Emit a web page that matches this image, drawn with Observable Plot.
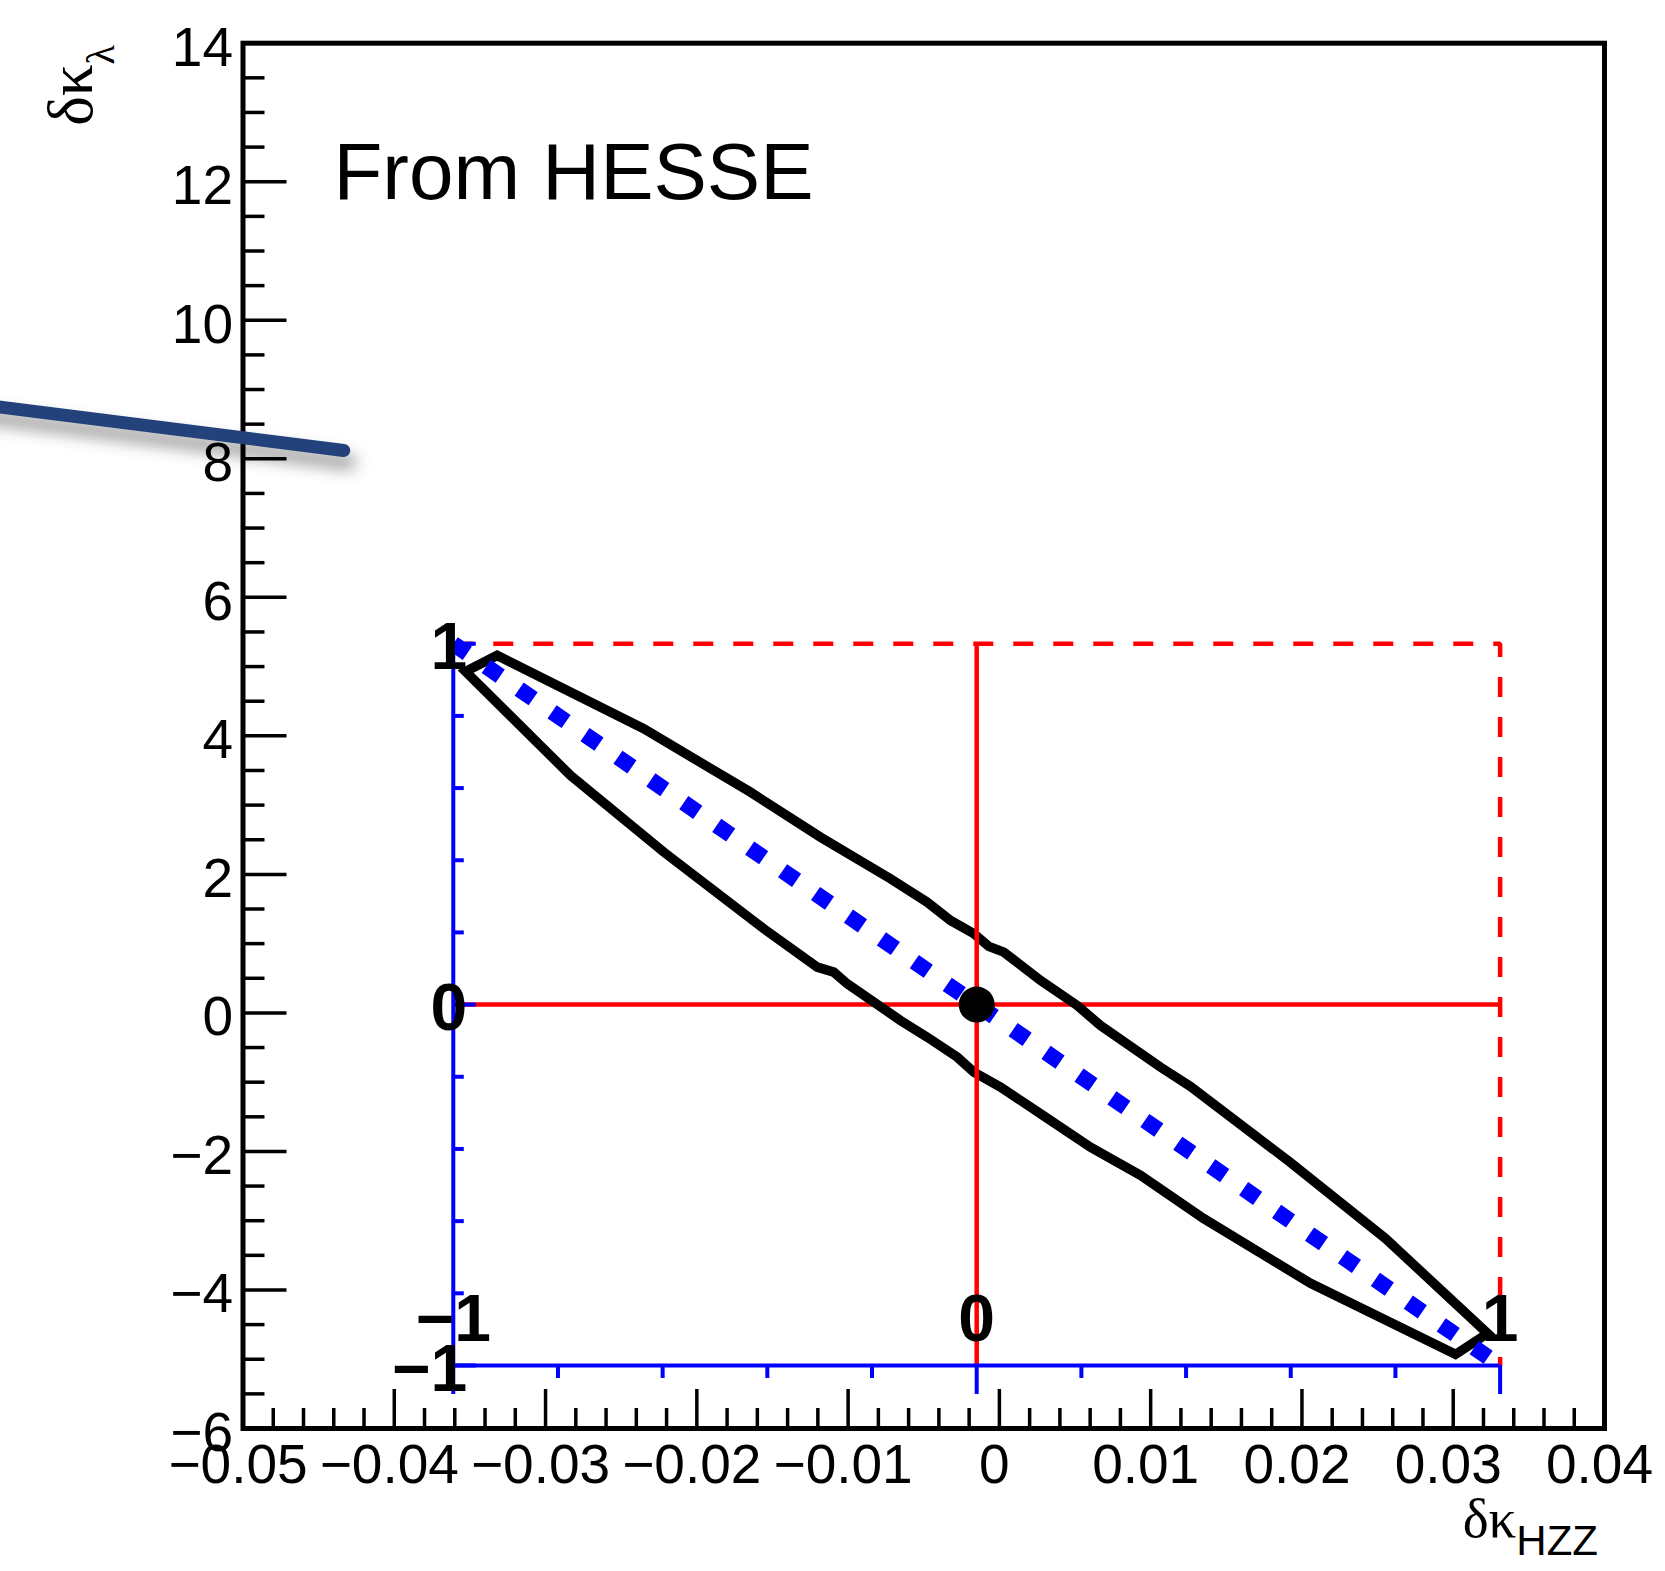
<!DOCTYPE html>
<html><head><meta charset="utf-8">
<script src="https://cdn.jsdelivr.net/npm/d3@7"></script>
<script src="https://cdn.jsdelivr.net/npm/@observablehq/plot@0.6"></script>
<style>html,body{margin:0;padding:0;background:#fff;} #chart svg{display:block;}</style>
</head><body><div id="chart"></div>
<script>
// ---- axes ----
const xDomain = [-0.05, 0.04];
const yDomain = [-6, 14];
const xMajorTicks = [-0.05, -0.04, -0.03, -0.02, -0.01, 0, 0.01, 0.02, 0.03, 0.04];
const xTickLabels = ["−0.05", "−0.04", "−0.03", "−0.02", "−0.01", "0", "0.01", "0.02", "0.03", "0.04"];
const yMajorTicks = [-6, -4, -2, 0, 2, 4, 6, 8, 10, 12, 14];
const yTickLabels = ["−6", "−4", "−2", "0", "2", "4", "6", "8", "10", "12", "14"];
const xMinorTicks = d3.range(0, 46).map(i => +(-0.05 + i * 0.002).toFixed(4)).filter(v => !xMajorTicks.some(m => Math.abs(m - v) < 1e-9));
const yMinorTicks = d3.range(0, 41).map(i => -6 + i * 0.5).filter(v => v % 2 !== 0);

// ---- fit result (from HESSE) ----
const fitCenter = [-0.0015, 0.12];   // best fit (δκ_HZZ, δκ_λ)
const fitSigma = [0.0346, 5.21];     // 1σ errors

// ---- correlation axes ----
const corrMajor = [-1, 0, 1];
const corrMinor = [-0.8, -0.6, -0.4, -0.2, 0.2, 0.4, 0.6, 0.8];
const corrLabels = ["−1", "0", "1"];

// ---- contour (black polygon) ----
const contourX = [-0.03529, -0.03320, -0.02351, -0.01645, -0.01183, -0.00720, -0.00477, -0.00323, -0.00169, -0.00070,
  0.00029, 0.00272, 0.00514, 0.00668, 0.01065, 0.01263, 0.01924, 0.02552, 0.03227, 0.03015,
  0.02057, 0.01349, 0.00933, 0.00602, 0.00272, 0.00007, -0.00169, -0.00279, -0.00477, -0.00654,
  -0.01006, -0.01095, -0.01204, -0.01557, -0.02218, -0.02835];
const contourY = [4.930, 5.161, 4.102, 3.187, 2.538, 1.937, 1.599, 1.335, 1.143, 0.960,
  0.877, 0.469, 0.108, -0.181, -0.783, -1.061, -2.159, -3.256, -4.627, -4.930,
  -3.905, -2.967, -2.346, -1.938, -1.455, -1.071, -0.855, -0.638, -0.350, -0.109,
  0.421, 0.589, 0.661, 1.215, 2.321, 3.428];

// ---- overlay annotation stroke ----
const annotX = [-0.0680, -0.04334];
const annotY = [8.80, 8.12];

const [cx, cy] = fitCenter, [sx, sy] = fitSigma;
const xlo = cx - sx, xhi = cx + sx, ylo = cy - sy, yhi = cy + sy;
const contour = contourX.map((x, i) => ({x, y: contourY[i]}));
const annot = annotX.map((x, i) => [x, annotY[i]]);
const RED = "#ff0000", BLUE = "#0000ff";
const SANS = "'Liberation Sans', Arial, Helvetica, sans-serif";
const SERIF = "'Liberation Serif', 'DejaVu Serif', serif";

const plot = Plot.plot({
  width: 1665, height: 1571,
  marginLeft: 242.5, marginRight: 61, marginTop: 42.7, marginBottom: 143,
  x: {domain: xDomain, axis: null},
  y: {domain: yDomain, axis: null},
  style: {background: "white", fontFamily: SANS, overflow: "visible"},
  marks: [
    // red solid horizontal
    Plot.ruleY([cy], {x1: xlo, x2: xhi, stroke: RED, strokeWidth: 4.5}),
    // red dashed box edges
    Plot.line([[xlo, yhi], [xhi, yhi], [xhi, ylo]], {stroke: RED, strokeWidth: 4.5, strokeDasharray: "20 20", strokeLinecap: "butt", strokeLinejoin: "miter"}),
    // contour
    Plot.line(contour, {x: "x", y: "y", curve: "linear-closed", stroke: "black", strokeWidth: 9.5, strokeLinejoin: "miter", strokeMiterlimit: 4}),
    // red solid vertical
    Plot.ruleX([cx], {y1: ylo, y2: yhi, stroke: RED, strokeWidth: 4.5}),
    // blue correlation axes
    Plot.ruleX([xlo], {y1: ylo, y2: yhi, stroke: BLUE, strokeWidth: 4}),
    Plot.ruleY([ylo], {x1: xlo, x2: xhi, stroke: BLUE, strokeWidth: 4}),
    Plot.ruleX(corrMinor, {x: t => cx + t * sx, y1: () => ylo, y2: () => ylo, insetBottom: -13, stroke: BLUE, strokeWidth: 4}),
    Plot.ruleX(corrMajor, {x: t => cx + t * sx, y1: () => ylo, y2: () => ylo, insetBottom: -29, stroke: BLUE, strokeWidth: 4}),
    Plot.ruleY(corrMinor, {y: t => cy + t * sy, x1: () => xlo, x2: () => xlo, insetRight: -11, stroke: BLUE, strokeWidth: 4}),
    Plot.ruleY(corrMajor, {y: t => cy + t * sy, x1: () => xlo, x2: () => xlo, insetRight: -23, stroke: BLUE, strokeWidth: 4}),
    // blue dotted correlation line
    Plot.line([[xlo, yhi], [xhi, ylo]], {stroke: BLUE, strokeWidth: 16, strokeDasharray: "17 23", strokeLinecap: "butt"}),
    // best-fit point
    Plot.dot([fitCenter], {x: d => d[0], y: d => d[1], r: 18, fill: "black", stroke: "none"}),
    // correlation axis labels
    Plot.text(corrMajor, {x: () => xlo, y: t => cy + t * sy, text: (d, i) => corrLabels[i], textAnchor: "end", lineAnchor: "middle", dx: 14, dy: 4, fontSize: 66, fontWeight: "bold", fill: "black"}),
    Plot.text(corrMajor, {x: t => cx + t * sx, y: () => ylo, text: (d, i) => corrLabels[i], textAnchor: "middle", lineAnchor: "bottom", dy: -24, fontSize: 66, fontWeight: "bold", fill: "black"}),
    // frame axis ticks (inward)
    Plot.ruleY(yMinorTicks, {y: d => d, x1: () => xDomain[0], x2: () => xDomain[0], insetRight: -22, stroke: "black", strokeWidth: 3.5}),
    Plot.ruleY(yMajorTicks, {y: d => d, x1: () => xDomain[0], x2: () => xDomain[0], insetRight: -44, stroke: "black", strokeWidth: 3.5}),
    Plot.ruleX(xMinorTicks, {x: d => d, y1: () => yDomain[0], y2: () => yDomain[0], insetTop: -20, stroke: "black", strokeWidth: 3.5}),
    Plot.ruleX(xMajorTicks, {x: d => d, y1: () => yDomain[0], y2: () => yDomain[0], insetTop: -39, stroke: "black", strokeWidth: 3.5}),
    // tick labels
    Plot.text(xMajorTicks, {x: d => d, text: (d, i) => xTickLabels[i], frameAnchor: "bottom", lineAnchor: "bottom", textAnchor: "middle", dy: 54, dx: -5, fontSize: 55, fill: "black"}),
    Plot.text(yMajorTicks, {y: d => d, text: (d, i) => yTickLabels[i], frameAnchor: "left", lineAnchor: "bottom", textAnchor: "end", dx: -10, dy: 22.5, fontSize: 55, fill: "black"}),
    // in-plot title
    Plot.text(["From HESSE"], {text: d => d, frameAnchor: "top-left", textAnchor: "start", lineAnchor: "bottom", dx: 90.5, dy: 155.5, fontSize: 80, fill: "black"}),
    Plot.frame({stroke: "black", strokeWidth: 5}),
    // overlay annotation stroke
    Plot.line(annot, {stroke: "#23427b", strokeWidth: 13, strokeLinecap: "round"})
  ]
});

const svg = d3.select(plot);
svg.selectAll('[stroke="#23427b"]').style("filter", "drop-shadow(6px 12px 8px rgba(0,0,0,0.42))");

// axis titles with sub-scripts
const xt = svg.append("text").attr("x", 1598).attr("y", 1537).attr("text-anchor", "end").attr("fill", "black");
xt.append("tspan").attr("font-family", SERIF).attr("font-size", 55).text("δκ");
xt.append("tspan").attr("font-family", SANS).attr("font-size", 42).attr("dy", 18).text("HZZ");

const yt = svg.append("text").attr("transform", "translate(92,45) rotate(-90)").attr("text-anchor", "end").attr("fill", "black");
yt.append("tspan").attr("font-family", SERIF).attr("font-size", 63).text("δκ");
yt.append("tspan").attr("font-family", SERIF).attr("font-size", 40).attr("dy", 22).text("λ");

document.getElementById("chart").appendChild(plot);
</script>
</body></html>
